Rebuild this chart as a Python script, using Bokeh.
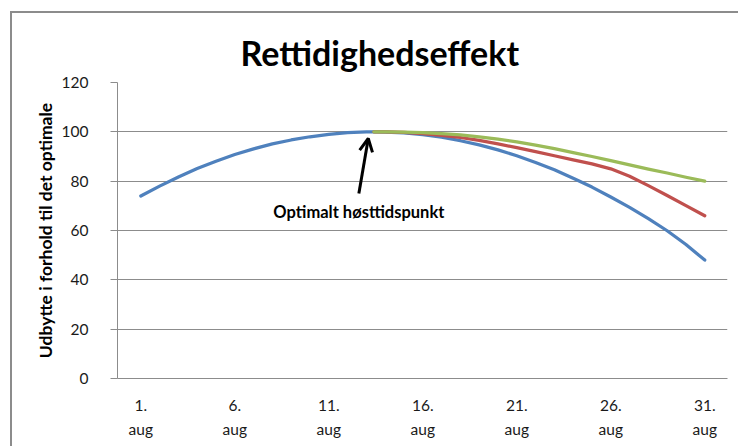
from bokeh.plotting import figure
from bokeh.models import (Range1d, LinearAxis, FixedTicker, Label, Arrow, OpenHead, Title)
from bokeh.embed import file_html
from bokeh.resources import INLINE

# ---- data ----
title_text = "Rettidighedseffekt"
y_title = "Udbytte i forhold til det optimale"
annot_text = "Optimalt høsttidspunkt"

tick_days = [1, 6, 11, 16, 21, 26, 31]
tick_top = ["1.", "6.", "11.", "16.", "21.", "26.", "31."]
tick_bottom = ["aug"] * 7
y_ticks = [0, 20, 40, 60, 80, 100, 120]

optimum_day = 13.4
optimum_val = 100

blue_days = [1, 2, 3, 4, 5, 6, 7, 8, 9, 10, 11, 12, 13, 13.4, 14, 15, 16, 17, 18, 19, 20,
             21, 22, 23, 24, 25, 26, 27, 28, 29, 30, 31]
blue_vals = [74, 78.0, 81.7, 85.1, 88.1, 90.8, 93.1, 95.1, 96.7, 98.0, 99.0, 99.7, 100, 100,
             99.9, 99.6, 98.9, 97.8, 96.4, 94.7, 92.7, 90.3, 87.6, 84.6, 81.2, 77.6, 73.6,
             69.4, 64.8, 59.9, 54.3, 48.0]

red_days = [13.4, 14, 15, 16, 17, 18, 19, 20, 21, 22, 23, 24, 25, 26, 27, 28, 29, 30, 31]
red_vals = [100, 100, 99.8, 99.3, 98.6, 97.7, 96.5, 95.1, 93.6, 92.0, 90.3, 88.6, 87.0,
            85.0, 82.0, 78.2, 74.2, 70.1, 66.0]

green_days = [13.4, 14, 15, 16, 17, 18, 19, 20, 21, 22, 23, 24, 25, 26, 27, 28, 29, 30, 31]
green_vals = [100, 100, 99.9, 99.7, 99.3, 98.8, 98.0, 97.0, 95.9, 94.6, 93.2, 91.6, 90.0,
              88.3, 86.6, 84.9, 83.3, 81.6, 80.0]

BLUE = "#4F81BD"
RED = "#C0504D"
GREEN = "#9BBB59"
GRID = "#8c8c8c"
FONT = "Lato"

p = figure(width=738, height=446, output_backend="svg", toolbar_location=None,
           x_range=Range1d(-0.24, 32.21), y_range=Range1d(0, 120),
           min_border_left=117, min_border_right=11, min_border_top=82, min_border_bottom=68,
           x_axis_location=None, y_axis_location=None)
p.outline_line_color = None
p.background_fill_color = "white"
p.border_fill_alpha = 0
p.styles = {
    "background": ("linear-gradient(#8c8c8c, #8c8c8c) 10px 11px / 2px 100% no-repeat, "
                   "linear-gradient(#8c8c8c, #8c8c8c) 10px 11px / 100% 2px no-repeat, white"),
}

# title
p.add_layout(Title(text=title_text, align="left", offset=123, text_font=FONT,
                   text_font_style="bold", text_font_size="34px", text_color="black",
                   standoff=20), "above")

# y axis
yax = LinearAxis(ticker=FixedTicker(ticks=y_ticks))
yax.axis_line_color = GRID
yax.axis_line_width = 1
yax.major_tick_line_color = GRID
yax.major_tick_out = 7
yax.major_tick_in = 0
yax.minor_tick_line_color = None
yax.major_label_text_font = FONT
yax.major_label_text_font_size = "15.5px"
yax.major_label_text_color = "#1a1a1a"
yax.major_label_standoff = 22
yax.axis_label = y_title
yax.axis_label_text_font = FONT
yax.axis_label_text_font_style = "bold"
yax.axis_label_text_font_size = "17.5px"
yax.axis_label_text_color = "#000000"
yax.axis_label_standoff = 3
p.add_layout(yax, "left")

# x axes (two rows of labels)
xax1 = LinearAxis(ticker=FixedTicker(ticks=tick_days),
                  major_label_overrides={d: t for d, t in zip(tick_days, tick_top)})
xax1.axis_line_color = GRID
xax1.major_tick_line_color = None
xax1.minor_tick_line_color = None
xax1.major_label_text_font = FONT
xax1.major_label_text_font_size = "15.5px"
xax1.major_label_text_color = "#1a1a1a"
xax1.major_label_standoff = 15
p.add_layout(xax1, "below")

xax2 = LinearAxis(ticker=FixedTicker(ticks=tick_days),
                  major_label_overrides={d: t for d, t in zip(tick_days, tick_bottom)})
xax2.axis_line_color = None
xax2.major_tick_line_color = None
xax2.minor_tick_line_color = None
xax2.major_label_text_font = FONT
xax2.major_label_text_font_size = "15.5px"
xax2.major_label_text_color = "#1a1a1a"
xax2.major_label_standoff = 0
p.add_layout(xax2, "below")

# grid
p.ygrid.ticker = FixedTicker(ticks=y_ticks)
p.ygrid.grid_line_color = GRID
p.xgrid.grid_line_color = None

# series
p.line(blue_days, blue_vals, line_color=BLUE, line_width=3.25, line_cap="round", line_join="round")
p.line(red_days, red_vals, line_color=RED, line_width=3.25, line_cap="round", line_join="round")
p.line(green_days, green_vals, line_color=GREEN, line_width=3.25, line_cap="round", line_join="round")

# annotation arrow + text
p.add_layout(Arrow(end=OpenHead(size=13, line_width=3, line_color="black"),
                   x_start=optimum_day - 0.8, y_start=optimum_val - 25,
                   x_end=optimum_day - 0.3, y_end=optimum_val - 2.7,
                   line_width=3, line_color="black"))
p.add_layout(Label(x=optimum_day - 0.8, y=optimum_val - 32.3, text=annot_text,
                   text_align="center", text_baseline="middle", text_font=FONT,
                   text_font_style="bold", text_font_size="16.5px", text_color="black"))

open("out.html", "w").write(file_html(p, INLINE))
